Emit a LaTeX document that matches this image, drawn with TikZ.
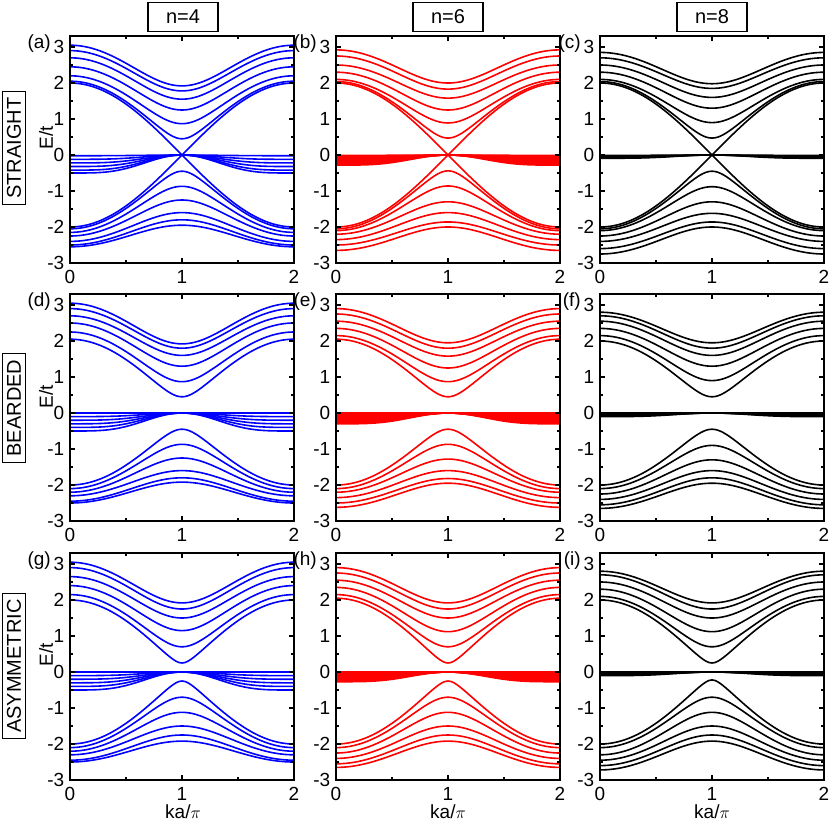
\documentclass[tikz,border=0pt]{standalone}
\usepackage{fontspec}
\setmainfont{Liberation Sans}
\definecolor{pblue}{RGB}{0,0,255}
\definecolor{pred}{RGB}{255,0,0}
\tikzset{band/.style={line width=1.6pt},
  fr/.style={line width=1.6pt,black},
  tl/.style={font=\fontsize{19}{19}\selectfont,inner sep=0pt},
  hdr/.style={draw,line width=1.2pt,font=\fontsize{20}{20}\selectfont,minimum width=70pt,minimum height=29pt,inner sep=2pt}}
\newcommand\drawpanel[7]{%
\begin{scope}[shift={(#1pt,-#2pt-119pt)},x=112pt,y=36pt]
 \foreach \A/\m in {#5} \draw[#4,band] plot[domain=0:2,samples=81] (\x,{sqrt(\m*\m+(\A*\A-\m*\m)*cos(90*\x)*cos(90*\x))});
 \foreach \A/\m in {#6} \draw[#4,band] plot[domain=0:2,samples=81] (\x,{-sqrt(\m*\m+(\A*\A-\m*\m)*cos(90*\x)*cos(90*\x))});
 \foreach \b in {#7} \draw[#4,band] plot[domain=0:2,samples=61] (\x,{-\b*(1-sin(90*\x)*sin(90*\x)*sin(90*\x)*sin(90*\x))});
 \draw[fr] (0,-3) rectangle (2,3.3);
 \foreach \t in {0,1,2} {\draw[fr] (\t,-3) -- ++(0,5pt); \draw[fr] (\t,3.3) -- ++(0,-5pt);
   \node[tl,anchor=north] (xl\t) at (\t,-3.2) {\t};}
 \foreach \t in {0.5,1.5} {\draw[fr] (\t,-3) -- ++(0,3pt); \draw[fr] (\t,3.3) -- ++(0,-3pt);}
 \foreach \t in {-3,...,3} {\draw[fr] (0,\t) -- ++(5pt,0); \draw[fr] (2,\t) -- ++(-5pt,0);
   \node[tl,anchor=east] (yl) at (-0.05,\t) {\t};}
 \foreach \t in {-2.5,-1.5,-0.5,0.5,1.5,2.5} {\draw[fr] (0,\t) -- ++(3pt,0); \draw[fr] (2,\t) -- ++(-3pt,0);}
 \node[tl,anchor=east] (pl) at (-0.17,3.1) {(#3)};
\end{scope}}
\begin{document}
\begin{tikzpicture}[x=1pt,y=1pt]
\useasboundingbox[fill=white] (0,0) rectangle (830,-820);
% headers
\node[hdr] (h1) at (183,-17) {n=4};
\node[hdr] (h2) at (448,-17) {n=6};
\node[hdr] (h3) at (712,-17) {n=8};
\node[hdr,rotate=90,minimum width=0pt,minimum height=23pt,inner xsep=6pt] (r1) at (14,-148) {STRAIGHT};
\node[hdr,rotate=90,minimum width=0pt,minimum height=23pt,inner xsep=6pt] (r2) at (14,-408) {BEARDED};
\node[hdr,rotate=90,minimum width=0pt,minimum height=23pt,inner xsep=6pt] (r3) at (14,-666) {ASYMMETRIC};
\foreach \yy/\nm in {138/e1,397/e2,655/e3} \node[tl,rotate=90] (\nm) at (46,-\yy) {E/t};
\foreach \xx/\nm in {183/k1,448/k2,712/k3} \node[tl] (\nm) at (\xx,-812) {ka/$\pi$};
% row 1 straight
\drawpanel{70}{36}{a}{pblue}{2.0/0,2.05/0.45,2.2/0.87,2.45/1.25,2.7/1.55,2.9/1.78,3.05/1.92}{2.0/0,2.05/0.45,2.15/0.87,2.25/1.25,2.4/1.6,2.5/1.8,2.55/1.95}{0.02,0.12,0.22,0.32,0.42,0.5}
\drawpanel{336}{36}{b}{pred}{2.0/0,2.04/0.47,2.1/0.89,2.3/1.25,2.5/1.58,2.75/1.83,2.92/2.0}{2.0/0,2.05/0.44,2.1/0.86,2.2/1.3,2.35/1.6,2.5/1.86,2.65/2.0}{0.01,0.04,0.07,0.1,0.13,0.16,0.19,0.22,0.25,0.28}
\drawpanel{600}{36}{c}{black}{2.0/0,2.04/0.47,2.1/0.9,2.3/1.3,2.5/1.6,2.7/1.85,2.85/1.98}{2.0/0,2.05/0.45,2.1/0.88,2.25/1.3,2.4/1.62,2.6/1.86,2.75/2.0}{0.01,0.03,0.05,0.07,0.09}
% row 2 bearded
\drawpanel{70}{294}{d}{pblue}{2.05/0.45,2.25/0.87,2.5/1.3,2.7/1.6,2.9/1.8,3.05/1.92}{2.0/0.45,2.1/0.87,2.2/1.25,2.3/1.6,2.45/1.8,2.5/1.92}{0.0,0.1,0.2,0.3,0.4,0.5}
\drawpanel{336}{294}{e}{pred}{2.05/0.45,2.15/0.87,2.35/1.25,2.55/1.58,2.75/1.8,2.9/1.95}{2.0/0.45,2.1/0.87,2.2/1.28,2.35/1.6,2.5/1.82,2.62/1.95}{0.0,0.03,0.06,0.09,0.12,0.15,0.18,0.21,0.24,0.27,0.3}
\drawpanel{600}{294}{f}{black}{2.0/0.45,2.15/0.9,2.35/1.3,2.55/1.6,2.7/1.8,2.8/1.95}{2.0/0.45,2.1/0.9,2.25/1.3,2.4/1.6,2.55/1.8,2.65/1.95}{0.0,0.02,0.04,0.06,0.08,0.1}
% row 3 asymmetric
\drawpanel{70}{553}{g}{pblue}{2.0/0.25,2.15/0.7,2.4/1.15,2.65/1.5,2.9/1.75,3.05/1.92}{2.0/0.25,2.1/0.7,2.2/1.12,2.3/1.5,2.45/1.75,2.5/1.92}{0.0,0.1,0.2,0.3,0.4,0.5}
\drawpanel{336}{553}{h}{pred}{2.05/0.25,2.15/0.7,2.35/1.12,2.55/1.5,2.75/1.75,2.9/1.92}{2.0/0.25,2.1/0.7,2.25/1.12,2.4/1.5,2.55/1.75,2.65/1.92}{0.0,0.03,0.06,0.09,0.12,0.15,0.18,0.21,0.24,0.27}
\drawpanel{600}{553}{i}{black}{2.0/0.25,2.1/0.7,2.3/1.12,2.5/1.5,2.7/1.75,2.8/1.92}{2.0/0.22,2.1/0.7,2.3/1.12,2.45/1.5,2.6/1.75,2.72/1.92}{0.0,0.02,0.04,0.06,0.08,0.1}
\end{tikzpicture}
\end{document}
